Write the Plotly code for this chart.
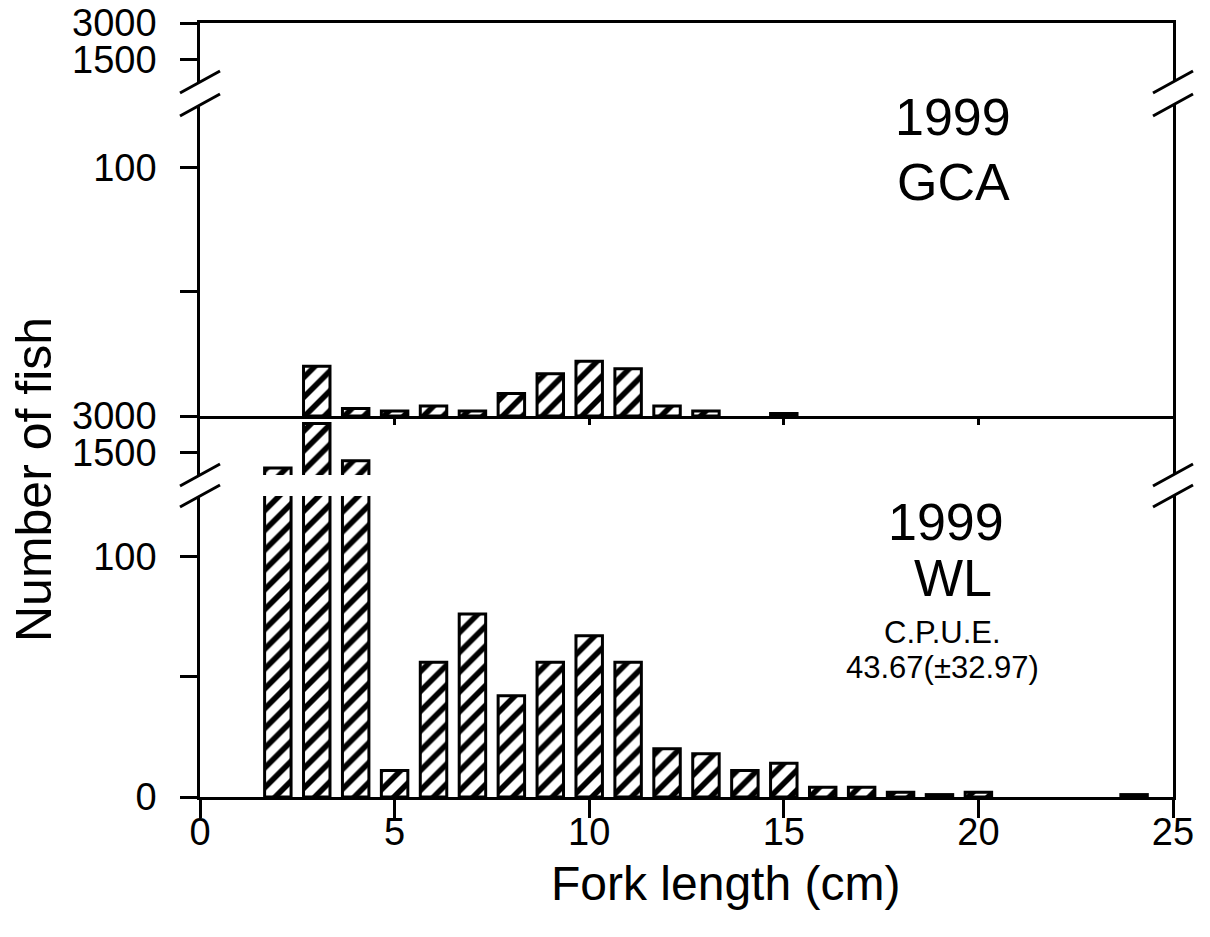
import plotly.graph_objects as go

# ---------------- data ----------------
gca_length = [3, 4, 5, 6, 7, 8, 9, 10, 11, 12, 13, 15]
gca_count = [20, 3, 2, 4, 2, 9, 17, 22, 19, 4, 2, 1]

wl_length = [2, 3, 4, 5, 6, 7, 8, 9, 10, 11, 12, 13, 14, 15, 16, 17, 18, 19, 20, 24]
wl_count = [880, 2690, 1180, 11, 56, 76, 42, 56, 67, 56, 20, 18, 11, 14, 4, 4, 2, 1, 2, 1]

x_ticks = [0, 5, 10, 15, 20, 25]
low_ticks = [0, 50, 100]
high_ticks = [1500, 3000]

W, H = 1210, 937
FONT = "Liberation Sans, Arial, sans-serif"


def fx(px):
    return px / W


def fy(py):
    return 1 - py / H


bar_style = dict(
    width=0.68,
    marker=dict(
        color="white",
        line=dict(color="black", width=3),
        pattern=dict(shape="/", fgcolor="black", bgcolor="white", size=14, solidity=0.4),
    ),
    showlegend=False,
)

fig = go.Figure()
# bottom panel (WL): lower segment y, upper segment y2
fig.add_trace(go.Bar(x=wl_length, y=wl_count, xaxis="x", yaxis="y", **bar_style))
fig.add_trace(go.Bar(x=wl_length, y=wl_count, xaxis="x3", yaxis="y2", **bar_style))
# top panel (GCA): lower segment y3, upper segment y4
fig.add_trace(go.Bar(x=gca_length, y=gca_count, xaxis="x2", yaxis="y3", **bar_style))
fig.add_trace(go.Bar(x=gca_length, y=gca_count, xaxis="x4", yaxis="y4", **bar_style))

xdom = [fx(200), fx(1173)]
tickfont = dict(family=FONT, size=38, color="black")

common_y = dict(
    showline=True, linecolor="black", linewidth=2.5, mirror=True,
    ticks="outside", ticklen=17, tickwidth=2.5, tickcolor="black",
    showgrid=False, zeroline=False, tickfont=tickfont, ticklabelstandoff=16,
    fixedrange=True, automargin=False,
)

fig.update_layout(
    template="none",
    width=W, height=H,
    margin=dict(l=0, r=0, t=0, b=0, pad=0, autoexpand=False),
    paper_bgcolor="white", plot_bgcolor="rgba(0,0,0,0)",
    bargap=0.3,
    xaxis=dict(
        domain=xdom, anchor="y", range=[0, 25], tickvals=x_ticks,
        showline=True, linecolor="black", linewidth=2.5,
        ticks="outside", ticklen=18, tickwidth=2.5, tickcolor="black",
        showgrid=False, zeroline=False, tickfont=tickfont, ticklabelstandoff=-18,
        automargin=False,
    ),
    xaxis2=dict(
        domain=xdom, anchor="y3", range=[0, 25], matches="x", tickvals=x_ticks[1:-1],
        showline=True, linecolor="black", linewidth=2.5,
        ticks="outside", ticklen=6, tickwidth=2.5, tickcolor="black",
        showticklabels=False, showgrid=False, zeroline=False, automargin=False,
    ),
    xaxis3=dict(domain=xdom, anchor="y2", range=[0, 25], matches="x", visible=False,
                automargin=False),
    xaxis4=dict(
        domain=xdom, anchor="y4", range=[0, 25], matches="x", side="top",
        showline=True, linecolor="black", linewidth=2.5,
        ticks="", showticklabels=False, showgrid=False, zeroline=False, automargin=False,
    ),
    yaxis=dict(domain=[fy(797), fy(496)], anchor="x", range=[0, 125],
               tickvals=low_ticks, ticktext=["0", "", "100"], **common_y),
    yaxis2=dict(domain=[fy(475), fy(416)], anchor="x3", range=[600, 3000],
                tickvals=high_ticks, ticktext=["1500", "3000"], **common_y),
    yaxis3=dict(domain=[fy(416), fy(105)], anchor="x2", range=[0, 125],
                tickvals=low_ticks[1:], ticktext=["", "100"], **common_y),
    yaxis4=dict(domain=[fy(82), fy(23)], anchor="x4", range=[600, 3000],
                tickvals=high_ticks, ticktext=["1500", "3000"], **common_y),
)

# axis-break slashes (relative to axis domains, in pixels)
for xa in (0, 1):
    for yref in ("y4 domain", "y3 domain", "y2 domain", "y domain"):
        anchor = 0 if yref in ("y4 domain", "y2 domain") else 1
        fig.add_shape(
            type="line", xref="x domain", yref=yref,
            xsizemode="pixel", ysizemode="pixel",
            xanchor=xa, yanchor=anchor,
            x0=-20, x1=20, y0=-11, y1=11,
            line=dict(color="black", width=3),
        )

big = dict(family=FONT, size=52, color="black")
small = dict(family=FONT, size=31, color="black")
labels = [
    ("1999", 953, 117, big), ("GCA", 953, 182, big),
    ("1999", 946, 522, big), ("WL", 953, 578, big),
    ("C.P.U.E.", 942, 632, small), ("43.67(\u00b132.97)", 942, 667, small),
]
for txt, px, py, f in labels:
    fig.add_annotation(text=txt, x=fx(px), y=fy(py), xref="paper", yref="paper",
                       showarrow=False, font=f, xanchor="center", yanchor="middle")

fig.add_annotation(text="Fork length (cm)", x=fx(725), y=fy(883), xref="paper", yref="paper",
                   showarrow=False, font=dict(family=FONT, size=48, color="black"),
                   xanchor="center", yanchor="middle")
fig.add_annotation(text="Number of fish", x=fx(34), y=fy(480), xref="paper", yref="paper",
                   showarrow=False, textangle=-90, font=dict(family=FONT, size=50, color="black"),
                   xanchor="center", yanchor="middle")

fig.write_html("out.html")
